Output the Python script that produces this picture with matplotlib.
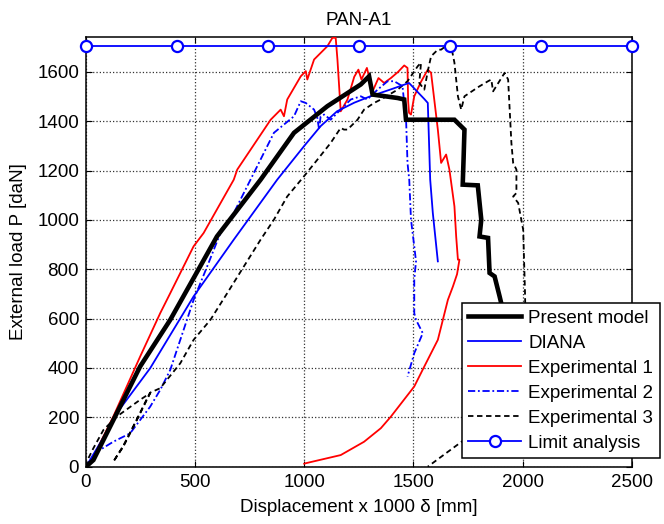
import matplotlib
matplotlib.use("Agg")
import matplotlib.pyplot as plt
import numpy as np

plt.rcParams['font.family'] = ['Liberation Sans', 'DejaVu Sans']

# ---- data ----
present_x = [0, 34, 248, 386, 600, 800, 953, 1106, 1259, 1297, 1313, 1428, 1458, 1466,
             1688, 1734, 1730, 1726, 1795, 1811, 1803, 1842, 1849, 1872, 1895, 1930, 1960]
present_y = [0, 27, 406, 595, 933, 1163, 1353, 1461, 1549, 1582, 1508, 1494, 1488, 1406,
             1406, 1366, 1250, 1143, 1140, 1001, 933, 927, 785, 771, 690, 560, 450]

diana_x = [0, 110, 141, 294, 493, 677, 876, 1000, 1075, 1150, 1229, 1300, 1400, 1480,
           1550, 1566, 1577, 1589, 1612]
diana_y = [0, 162, 217, 399, 690, 920, 1163, 1300, 1380, 1440, 1475, 1500, 1530, 1555,
           1490, 1474, 1163, 1028, 832]

exp1_x = [0, 34, 110, 125, 248, 340, 386, 493, 539, 677, 693, 846, 892, 907, 922, 984,
          1007, 1014, 1045, 1106, 1129, 1144, 1152, 1167, 1198, 1229, 1248, 1262, 1287,
          1313, 1340, 1366, 1397, 1430, 1458, 1473, 1476, 1480, 1489, 1504, 1535, 1566,
          1581, 1612, 1627, 1650, 1665, 1688, 1696, 1704, 1711, 1700, 1681, 1658, 1612,
          1550, 1504, 1397, 1351, 1274, 1167, 1007, 1000]
exp1_y = [0, 41, 176, 203, 446, 622, 703, 893, 947, 1163, 1204, 1406, 1447, 1420, 1488,
          1582, 1603, 1569, 1650, 1704, 1738, 1738, 1650, 1440, 1488, 1580, 1609, 1569,
          1616, 1521, 1575, 1555, 1575, 1600, 1626, 1616, 1480, 1434, 1427, 1501, 1560,
          1609, 1596, 1366, 1231, 1265, 1204, 1055, 933, 839, 839, 780, 730, 676, 514,
          406, 325, 203, 156, 101, 47, 14, 12]

exp2_x = [0, 34, 64, 125, 202, 294, 340, 386, 432, 493, 555, 616, 677, 769, 861, 953,
          984, 1007, 1045, 1060, 1068, 1075, 1091, 1121, 1152, 1213, 1259, 1289, 1336,
          1382, 1412, 1450, 1458, 1466, 1473, 1481, 1489, 1504, 1512, 1504, 1504, 1512,
          1543, 1504, 1473]
exp2_y = [0, 41, 68, 101, 135, 243, 311, 392, 514, 676, 811, 947, 1028, 1190, 1353, 1420,
          1481, 1474, 1447, 1413, 1366, 1420, 1427, 1406, 1434, 1488, 1501, 1488, 1528,
          1562, 1562, 1542, 1474, 1420, 1231, 1163, 1001, 893, 832, 760, 622, 595, 541,
          460, 365]

exp3_x = [0, 11, 34, 80, 141, 248, 294, 271, 233, 171, 125, 171, 233, 271, 294, 340, 432,
          493, 570, 647, 723, 800, 861, 922, 999, 1060, 1121, 1167, 1182, 1198, 1244, 1274,
          1320, 1351, 1428, 1473, 1520, 1535, 1527, 1550, 1566, 1581, 1612, 1627, 1658,
          1673, 1688, 1704, 1719, 1734, 1800, 1842, 1857, 1865, 1918, 1934, 1949, 1957,
          1972, 1972, 1957, 1980, 2003, 2011, 2015, 2000, 1950, 1850, 1747, 1650, 1566]
exp3_y = [0, 34, 75, 149, 203, 271, 298, 257, 189, 81, 20, 85, 192, 260, 300, 318, 419,
          514, 595, 703, 811, 920, 1001, 1095, 1177, 1244, 1312, 1373, 1366, 1366, 1406,
          1447, 1474, 1488, 1528, 1562, 1623, 1637, 1555, 1528, 1603, 1663, 1690, 1690,
          1711, 1704, 1637, 1501, 1447, 1501, 1540, 1562, 1569, 1521, 1596, 1569, 1312,
          1231, 1204, 1109, 1095, 1069, 960, 717, 550, 400, 300, 200, 118, 55, 0]

limit_x = [0, 416.7, 833.3, 1250, 1666.7, 2083.3, 2500]
limit_y = [1705, 1705, 1705, 1705, 1705, 1705, 1705]

xticks = [0, 500, 1000, 1500, 2000, 2500]
yticks = [0, 200, 400, 600, 800, 1000, 1200, 1400, 1600]

# ---- figure ----
fig = plt.figure(figsize=(6.64, 5.24), dpi=100)
ax = fig.add_axes([0.1295, 0.1094, 0.8218, 0.8194])

ax.plot(present_x, present_y, color='black', lw=3.3, label='Present model', zorder=5,
        solid_joinstyle='miter')
ax.plot(diana_x, diana_y, color='#0000ff', lw=1.3, label='DIANA', zorder=4)
ax.plot(exp1_x, exp1_y, color='#ff0000', lw=1.3, label='Experimental 1', zorder=3)
ax.plot(exp2_x, exp2_y, color='#0000ff', lw=1.3, ls=(0, (4, 1.5, 1, 1.5)),
        label='Experimental 2', zorder=3)
ax.plot(exp3_x, exp3_y, color='black', lw=1.3, ls=(0, (3, 2)),
        label='Experimental 3', zorder=3)
ax.plot(limit_x, limit_y, color='#0000ff', lw=1.3, marker='o', ms=8,
        mfc='white', mec='#0000ff', mew=1.6, label='Limit analysis', zorder=6,
        clip_on=False)

ax.set_xlim(0, 2500)
ax.set_ylim(0, 1740)
ax.set_xticks(xticks)
ax.set_yticks(yticks)
ax.grid(True, color='#333333', ls=':', lw=0.9)
ax.tick_params(direction='in', top=True, right=True, length=4, width=0.8,
               labelsize=13.5, pad=5)
for s in ax.spines.values():
    s.set_linewidth(1.1)

ax.set_title('PAN-A1', fontsize=13.5, pad=9)
ax.set_xlabel('Displacement x 1000 \u03b4 [mm]', fontsize=13.5, labelpad=6)
ax.set_ylabel('External load P [daN]', fontsize=13.5, labelpad=7)

leg = ax.legend(loc='lower right', bbox_to_anchor=(1.052, 0.0196), borderaxespad=0,
                fontsize=13.5, frameon=True, fancybox=False, framealpha=1,
                edgecolor='black', handlelength=2.8, handletextpad=0.4,
                labelspacing=0.42, borderpad=0.35)
leg.get_frame().set_linewidth(1.1)
leg.set_zorder(10)

fig.savefig('out.png', dpi=100)
